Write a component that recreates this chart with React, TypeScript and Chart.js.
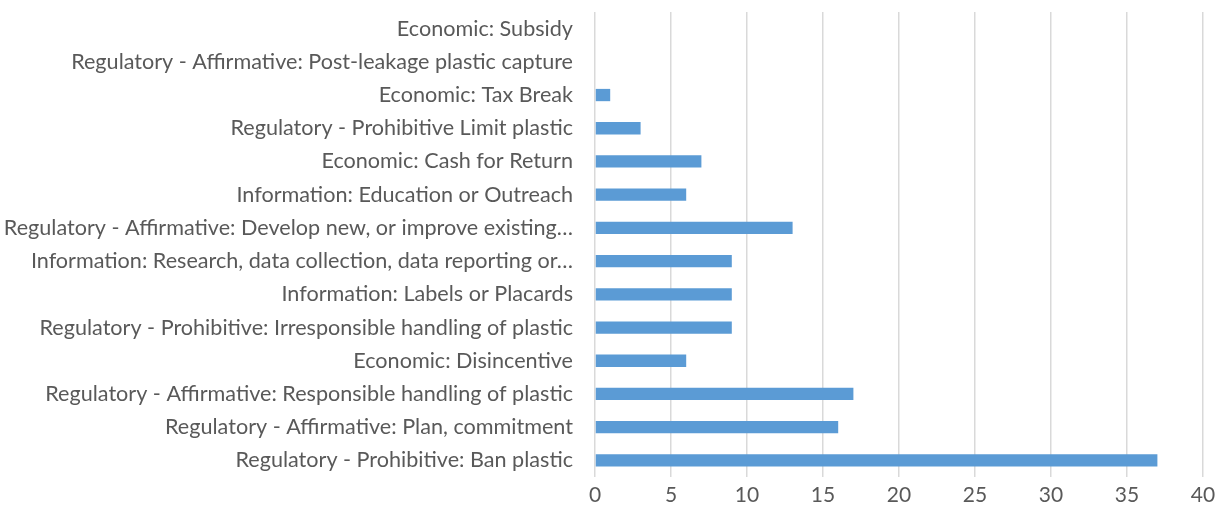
import React, { useEffect, useRef } from "react";
import { Chart, registerables } from "chart.js";

Chart.register(...registerables);

const categories: string[] = [
  "Economic: Subsidy",
  "Regulatory - Affirmative: Post-leakage plastic capture",
  "Economic: Tax Break",
  "Regulatory - Prohibitive Limit plastic",
  "Economic: Cash for Return",
  "Information: Education or Outreach",
  "Regulatory - Affirmative: Develop new, or improve existing…",
  "Information: Research, data collection, data reporting or…",
  "Information: Labels or Placards",
  "Regulatory - Prohibitive: Irresponsible handling of plastic",
  "Economic: Disincentive",
  "Regulatory - Affirmative: Responsible handling of plastic",
  "Regulatory - Affirmative: Plan, commitment",
  "Regulatory - Prohibitive: Ban plastic",
];

const counts: number[] = [0, 0, 1, 3, 7, 6, 13, 9, 9, 9, 6, 17, 16, 37];

const xMin = 0;
const xMax = 40;
const xStep = 5;

export default function App() {
  const ref = useRef<HTMLCanvasElement | null>(null);

  useEffect(() => {
    if (!ref.current) return;
    const chart = new Chart(ref.current, {
      type: "bar",
      data: {
        labels: categories,
        datasets: [
          {
            data: counts,
            backgroundColor: "#5b9bd5",
            borderWidth: 0,
            barPercentage: 0.37,
            categoryPercentage: 1,
          },
        ],
      },
      options: {
        indexAxis: "y",
        animation: false,
        responsive: false,
        maintainAspectRatio: false,
        layout: { padding: { top: 12, right: 0, left: 0, bottom: 0 } },
        plugins: {
          legend: { display: false },
          tooltip: { enabled: false },
        },
        scales: {
          x: {
            min: xMin,
            max: xMax,
            ticks: {
              stepSize: xStep,
              color: "#595959",
              padding: 6,
              font: { family: "Lato", size: 21 },
            },
            grid: {
              color: "#d9d9d9",
              lineWidth: 1.5,
              drawTicks: false,
            },
            border: { display: false },
            afterFit: (scale: any) => {
              scale.height = 39;
              scale.paddingRight = 14;
              scale.paddingLeft = 0;
            },
          },
          y: {
            ticks: {
              color: "#595959",
              padding: 14,
              autoSkip: false,
              font: { family: "Lato", size: 21.6 },
            },
            grid: { display: false },
            border: { display: false },
            afterFit: (scale: any) => {
              scale.width = 595;
              scale.paddingTop = 0;
              scale.paddingBottom = 0;
            },
          },
        },
      },
    });
    return () => chart.destroy();
  }, []);

  return (
    <div style={{ position: "absolute", left: 0, top: 0, width: 1217, height: 516, background: "#fff" }}>
      <canvas ref={ref} width={1217} height={516} style={{ display: "block" }} />
    </div>
  );
}
